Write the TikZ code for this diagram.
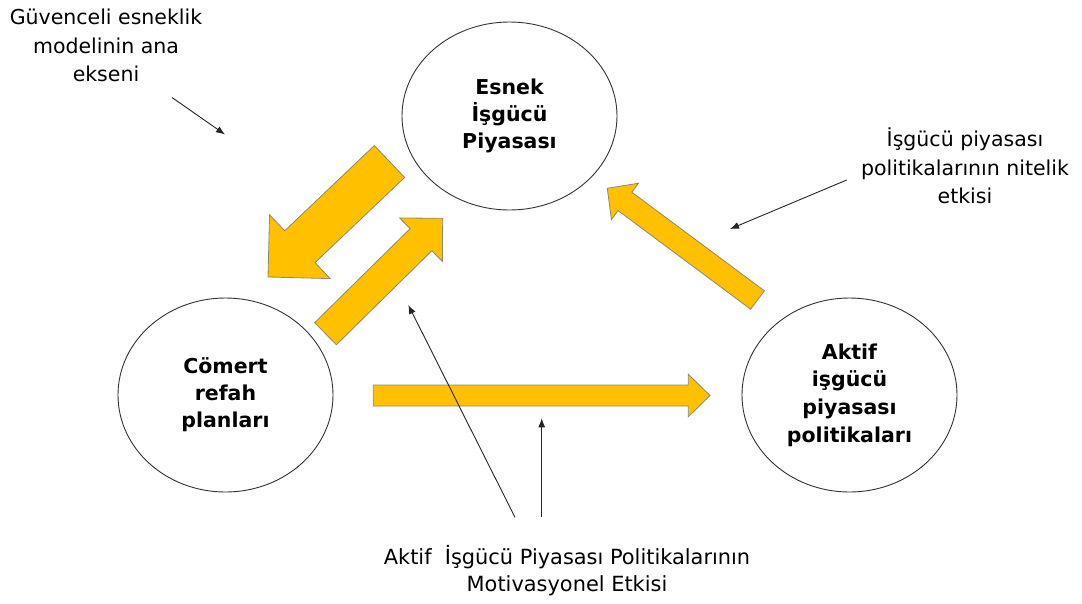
\documentclass[tikz,border=0pt]{standalone}
\usepackage{fontspec}
\setmainfont{DejaVu Sans}
\usetikzlibrary{shapes.geometric,arrows.meta,calc}
\definecolor{gold}{HTML}{FFC000}
\definecolor{goldedge}{HTML}{8C8A70}
\tikzset{
  circ/.style={ellipse,draw=black!80,line width=0.9pt,inner sep=0pt,align=center,
     font={\fontsize{20.5}{27}\selectfont\bfseries}},
  lbl/.style={align=center,inner sep=0pt,font={\fontsize{20.5}{28.3}\selectfont}},
  blockarr/.style={fill=gold,draw=goldedge,line width=0.8pt,line join=miter},
  thin/.style={draw=black!85,line width=0.9pt,-{Latex[length=9pt,width=7pt]}}
}
\newcommand\blockarrow[5]{%
  \coordinate (hb) at ($(#2)!#5pt!(#1)$);
  \draw[blockarr] ($(#1)!#3pt!90:(#2)$) -- ($(hb)!#3pt!90:(#2)$) -- ($(hb)!#4pt!90:(#2)$)
     -- (#2) -- ($(hb)!#4pt!-90:(#2)$) -- ($(hb)!#3pt!-90:(#2)$) -- ($(#1)!#3pt!-90:(#2)$) -- cycle;}
\begin{document}
\begin{tikzpicture}[x=1pt,y=-1pt]
\useasboundingbox[fill=white] (0,0) rectangle (1082,603);
% ellipses
\node[circ,minimum width=215pt,minimum height=188pt] (E) at (509.5,116) {Esnek\\İşgücü\\Piyasası};
\node[circ,minimum width=215pt,minimum height=194pt] (C) at (225.5,395) {Cömert\\refah\\planları};
\node[circ,minimum width=215pt,minimum height=194pt,font={\fontsize{20.5}{27.7}\selectfont\bfseries}] (A) at (849.5,395) {Aktif\\işgücü\\piyasası\\politikaları};
% block arrows
\coordinate (b1s) at (389.5,161.5); \coordinate (b1e) at (268,277);
\blockarrow{b1s}{b1e}{22}{44}{44}
\coordinate (b2s) at (325.5,333.7); \coordinate (b2e) at (442.7,218.3);
\blockarrow{b2s}{b2e}{15.5}{30.5}{30.5}
\coordinate (b3s) at (373.3,395.5); \coordinate (b3e) at (710,395.5);
\blockarrow{b3s}{b3e}{10.5}{21.3}{21.7}
\coordinate (b4s) at (757.5,300); \coordinate (b4e) at (607.3,188.3);
\blockarrow{b4s}{b4e}{11.5}{22.7}{22}
% labels
\node[lbl] (L1) at (106,45.5) {Güvenceli esneklik\\modelinin ana\\ekseni};
\node[lbl] (L2) at (965,165.8) {İşgücü piyasası\\politikalarının nitelik\\etkisi};
\node[lbl,font={\fontsize{20.9}{27.4}\selectfont}] (L3) at (567,570.9) {Aktif\ \ İşgücü Piyasası Politikalarının\\Motivasyonel Etkisi};
% thin arrows
\coordinate (t1s) at (172,97.5); \coordinate (t1e) at (225,134.5);
\coordinate (t2s) at (846.7,180); \coordinate (t2e) at (730,229);
\coordinate (t3s) at (515,517.3); \coordinate (t3e) at (408.3,305);
\coordinate (t4s) at (541.7,517.3); \coordinate (t4e) at (541.7,418.3);
\draw[thin] (t1s) -- (t1e);
\draw[thin] (t2s) -- (t2e);
\draw[thin] (t3s) -- (t3e);
\draw[thin] (t4s) -- (t4e);
\end{tikzpicture}
\end{document}
